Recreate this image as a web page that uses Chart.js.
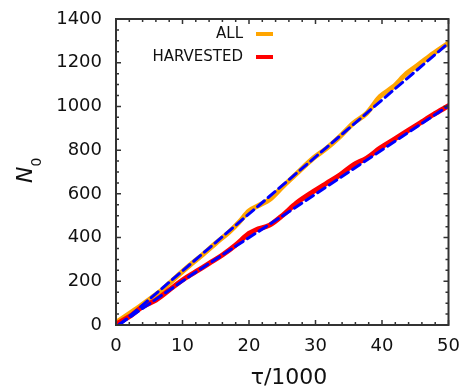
<!DOCTYPE html>
<html>
<head>
<meta charset="utf-8">
<script src="https://cdn.jsdelivr.net/npm/chart.js@4"></script>
<style>
  html, body { margin: 0; padding: 0; background: #fff; }
  #wrap { width: 463px; height: 391px; }
</style>
</head>
<body>
<div id="wrap"><canvas id="chart" width="463" height="391"></canvas></div>
<script>
// values (tau/1000 vs N0)
const allTau = [0, 1.5, 3.8, 5, 7, 9, 11, 13, 15, 17, 18.5, 20, 21.6, 23.1, 25.1, 27.1, 29.7, 31.7, 33.7, 35.7, 37.7, 39.7, 41.7, 43.7, 45.7, 47.7, 50];
const allN = [11, 42, 90, 117, 163, 218, 271, 321, 374, 425, 470, 522, 549, 574, 634, 691, 764, 809, 863, 924, 969, 1045, 1090, 1151, 1196, 1242, 1290];
const harvTau = [0, 2, 4, 6, 8, 10, 12, 14, 16, 18, 20, 21, 23.1, 25.1, 27.1, 29.7, 31.7, 33.7, 35.7, 37.7, 39.7, 41.7, 43.7, 45.7, 47.7, 50];
const harvN = [5, 38, 84, 114, 160, 206, 244, 282, 320, 366, 419, 435, 457, 503, 557, 611, 649, 687, 733, 764, 809, 847, 886, 924, 962, 1003];
// fit lines (read along the dashes)
const fitAllTau = [0.5, 50];
const fitAllN = [0, 1290];
const fitHarvTau = [0.5, 11.5, 26, 50];
const fitHarvN = [3, 232, 518, 1003];

const seriesNames = ['ALL', 'HARVESTED'];
const seriesColors = ['#ffa500', '#ff0000'];
const xTicks = [0, 10, 20, 30, 40, 50];
const yTicks = [0, 200, 400, 600, 800, 1000, 1200, 1400];

const toPoints = (xs, ys) => xs.map((x, i) => ({ x: x, y: ys[i] }));

// plot box
const PLOT = { left: 116, right: 448.5, top: 19, bottom: 325 };

// box, inward major/minor ticks on all sides, legend and axis titles
const framePlugin = {
    id: 'frame',
    afterDatasetsDraw(chart) {
        const ctx = chart.ctx;
        const xs = chart.scales.x, ys = chart.scales.y;
        const a = chart.chartArea;
        ctx.save();
        ctx.strokeStyle = '#333';
        ctx.lineWidth = 1.5;
        for (let v = 0; v <= 50; v += 2) {
            const px = xs.getPixelForValue(v);
            const len = v % 10 === 0 ? 5 : 3;
            ctx.beginPath();
            ctx.moveTo(px, a.bottom); ctx.lineTo(px, a.bottom - len);
            ctx.moveTo(px, a.top); ctx.lineTo(px, a.top + len);
            ctx.stroke();
        }
        for (let v = 0; v <= 1400; v += 50) {
            const py = ys.getPixelForValue(v);
            const len = v % 200 === 0 ? 5 : 3;
            ctx.beginPath();
            ctx.moveTo(a.left, py); ctx.lineTo(a.left + len, py);
            ctx.moveTo(a.right, py); ctx.lineTo(a.right - len, py);
            ctx.stroke();
        }
        ctx.lineWidth = 2;
        ctx.strokeRect(a.left, a.top, a.right - a.left, a.bottom - a.top);

        // legend, text right aligned then line sample
        ctx.font = '15px "DejaVu Sans"';
        ctx.textAlign = 'right';
        ctx.textBaseline = 'middle';
        const rows = [34, 57];
        seriesNames.forEach((name, i) => {
            ctx.fillStyle = '#111';
            ctx.fillText(name, 243, rows[i]);
            ctx.strokeStyle = seriesColors[i];
            ctx.lineWidth = 4;
            ctx.beginPath();
            ctx.moveTo(256, rows[i]); ctx.lineTo(273, rows[i]);
            ctx.stroke();
        });

        // axis titles
        ctx.fillStyle = '#111';
        ctx.textAlign = 'center';
        ctx.textBaseline = 'alphabetic';
        ctx.font = '22px "DejaVu Sans"';
        ctx.fillText('\u03c4/1000', 289, 384);

        ctx.translate(32, 183);
        ctx.rotate(-Math.PI / 2);
        ctx.textAlign = 'left';
        ctx.font = 'italic 22px "DejaVu Sans"';
        ctx.fillText('N', 0, 0);
        const w = ctx.measureText('N').width;
        ctx.font = '14px "DejaVu Sans"';
        ctx.fillText('0', w, 9);
        ctx.restore();
    }
};

function noPad(scale) {
    scale.paddingLeft = 0;
    scale.paddingRight = 0;
    scale.paddingTop = 0;
    scale.paddingBottom = 0;
}

const ctx = document.getElementById('chart').getContext('2d');
const chart = new Chart(ctx, {
    type: 'line',
    data: {
        datasets: [
            {
                label: 'ALL',
                data: toPoints(allTau, allN),
                borderColor: seriesColors[0],
                borderWidth: 5,
                cubicInterpolationMode: 'monotone',
                order: 3
            },
            {
                label: 'HARVESTED',
                data: toPoints(harvTau, harvN),
                borderColor: seriesColors[1],
                borderWidth: 5,
                cubicInterpolationMode: 'monotone',
                order: 2
            },
            {
                label: 'fit all',
                data: toPoints(fitAllTau, fitAllN),
                borderColor: '#0000ff',
                borderWidth: 3,
                borderDash: [9, 5],
                tension: 0,
                order: 1
            },
            {
                label: 'fit harvested',
                data: toPoints(fitHarvTau, fitHarvN),
                borderColor: '#0000ff',
                borderWidth: 3,
                borderDash: [9, 5],
                tension: 0,
                order: 0
            }
        ]
    },
    options: {
        responsive: false,
        animation: false,
        devicePixelRatio: 1,
        layout: { padding: { left: 0, top: PLOT.top, right: 463 - PLOT.right, bottom: 0 } },
        elements: {
            point: { radius: 0 },
            line: { borderCapStyle: 'round', borderJoinStyle: 'round' }
        },
        plugins: { legend: { display: false }, tooltip: { enabled: false } },
        scales: {
            x: {
                type: 'linear',
                min: 0, max: 50,
                afterFit(scale) { scale.height = 391 - PLOT.bottom; noPad(scale); },
                afterBuildTicks(scale) { scale.ticks = xTicks.map(v => ({ value: v })); },
                grid: { display: false, drawTicks: false },
                border: { display: false },
                ticks: {
                    padding: 11, color: '#111', maxRotation: 0,
                    font: { family: 'DejaVu Sans', size: 18 },
                    callback: v => String(v)
                }
            },
            y: {
                type: 'linear',
                min: 0, max: 1400,
                afterFit(scale) { scale.width = PLOT.left; noPad(scale); },
                afterBuildTicks(scale) { scale.ticks = yTicks.map(v => ({ value: v })); },
                grid: { display: false, drawTicks: false },
                border: { display: false },
                ticks: {
                    padding: 14, color: '#111',
                    font: { family: 'DejaVu Sans', size: 18 },
                    callback: v => String(v)
                }
            }
        }
    },
    plugins: [framePlugin]
});
</script>
</body>
</html>
